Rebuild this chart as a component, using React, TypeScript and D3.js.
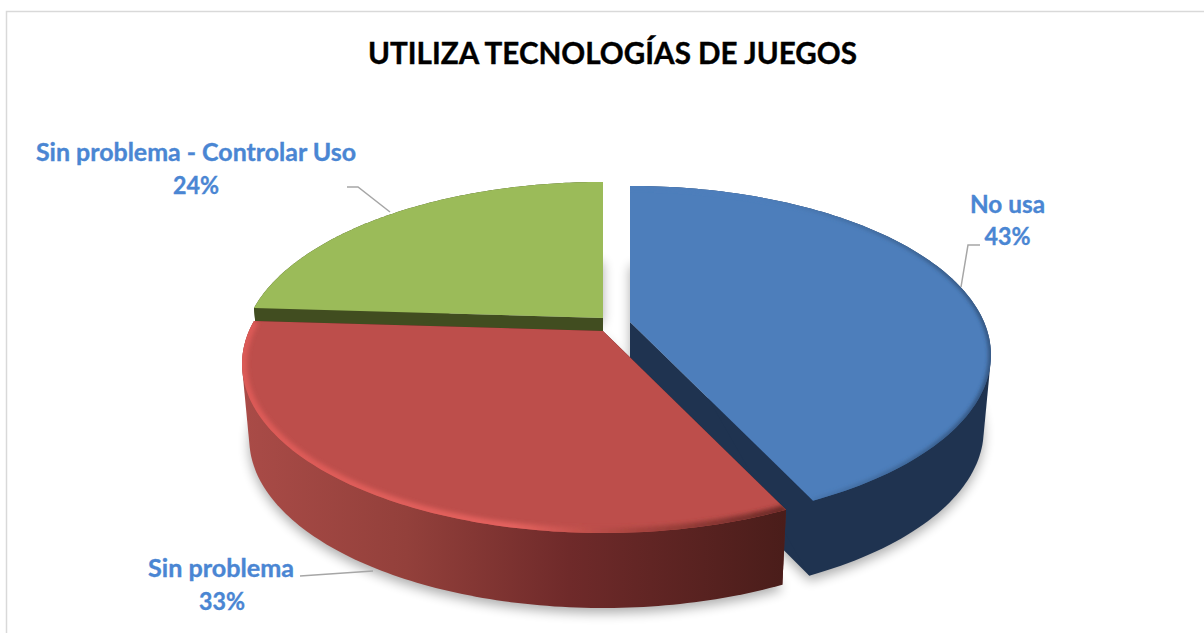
import React from "react";
import * as d3 from "d3";

const title = "UTILIZA TECNOLOGÍAS DE JUEGOS";
const categories = ["No usa", "Sin problema", "Sin problema - Controlar Uso"];
const shares = [43, 33, 24];
const topColors = ["#4d7ebb", "#bd4e4b", "#9bbb59"];
const cutColors = ["#1f3350", "#5a2220", "#414d20"];
const apexX = [630, 603, 603];
const apexY = [322, 331, 318];

const W = 1204, H = 633;
const K = 0.195, A = 162.6, R = 354, DEPTH = 75, SHRINK = 0.98;
type P = [number, number];

const proj = (i: number, a: number, r = 1): P => {
  const u = r * Math.sin(a), v = -r * Math.cos(a);
  const w = 1 - K * v;
  return [apexX[i] + (R * u) / w, apexY[i] + (A * v) / w];
};
const low = (i: number, p: P): P => [apexX[i] + SHRINK * (p[0] - apexX[i]), p[1] + DEPTH];
const line = d3.line<P>();
const arcs = d3.pie<number>().sort(null)(shares);
const arcPts = (i: number): P[] => {
  const { startAngle: s, endAngle: e } = arcs[i];
  return d3.range(0, 121).map((t) => proj(i, s + ((e - s) * t) / 120));
};

const topPath = (i: number) => line([[apexX[i], apexY[i]], ...arcPts(i)]) + "Z";
// The side wall is the convex hull of the rim and its lowered copy; the top face is painted over it.
const wallPath = (i: number) => {
  const a = arcPts(i);
  return line(d3.polygonHull([...a, ...a.map((p) => low(i, p))]) as P[]) + "Z";
};
const cutPath = (i: number, end: boolean) => {
  const a = arcPts(i);
  const o = end ? a[a.length - 1] : a[0];
  const c: P = [apexX[i], apexY[i]];
  return line([c, o, low(i, o), low(i, c)]) + "Z";
};
const hullPath = (i: number) => {
  const a = arcPts(i);
  const c: P = [apexX[i], apexY[i]];
  return line([c, ...a.map((p) => low(i, p)), low(i, c)]) + "Z";
};

const labelFill = "#4a86d3";
const leaderColor = "#a6a6a6";
const fontFamily = "Lato, 'Open Sans', sans-serif";
const labelRows = [
  { text: categories[0], x: 1007.5, y: 213, len: 75 },
  { text: `${shares[0]}%`, x: 1007.5, y: 245, len: 46 },
  { text: categories[1], x: 221, y: 577, len: 146 },
  { text: `${shares[1]}%`, x: 222, y: 610, len: 46 },
  { text: categories[2], x: 196, y: 161, len: 320 },
  { text: `${shares[2]}%`, x: 196, y: 194, len: 46 },
];
const leaders: P[][] = [
  [[980, 245], [968, 245], [961, 287]],
  [[300, 576], [373, 571]],
  [[347, 187], [358, 187], [390, 212]],
];
const rimStroke = ["url(#blueRim)", "url(#redRim)", "none"];
const rimWidth = [4, 10, 0];

export default function App() {
  const order = [2, 0, 1];
  return (
    <svg width={W} height={H} style={{ position: "absolute", left: 0, top: 0, display: "block", background: "#fff" }}>
      <defs>
        <filter id="shadow" x="-20%" y="-20%" width="140%" height="140%">
          <feGaussianBlur stdDeviation="6" />
        </filter>
        <filter id="rim" x="-5%" y="-5%" width="110%" height="110%">
          <feGaussianBlur stdDeviation="2" />
        </filter>
        <linearGradient id="redWall" gradientUnits="userSpaceOnUse" x1="245" y1="0" x2="785" y2="0">
          <stop offset="0" stopColor="#a94b47" />
          <stop offset="0.3" stopColor="#93403b" />
          <stop offset="0.6" stopColor="#6f2a2a" />
          <stop offset="1" stopColor="#4a1d1a" />
        </linearGradient>
        <linearGradient id="redRim" gradientUnits="userSpaceOnUse" x1="245" y1="0" x2="785" y2="0">
          <stop offset="0" stopColor="#dc5a57" />
          <stop offset="0.5" stopColor="#e4625e" />
          <stop offset="0.72" stopColor="#a8443f" />
          <stop offset="1" stopColor="#6a2a27" />
        </linearGradient>
        <linearGradient id="blueRim" gradientUnits="userSpaceOnUse" x1="760" y1="0" x2="985" y2="0">
          <stop offset="0" stopColor="#4d7ebb" />
          <stop offset="0.6" stopColor="#3a618f" />
          <stop offset="1" stopColor="#2a476c" />
        </linearGradient>
        {order.map((i) => (
          <clipPath id={`top${i}`} key={i}>
            <path d={topPath(i)} />
          </clipPath>
        ))}
      </defs>

      <path d={`M6.5 ${H}V11.5H${W}`} fill="none" stroke="#d9d9d9" strokeWidth={1.5} />

      <g filter="url(#shadow)" opacity={0.32} transform="translate(0,5)">
        {order.map((i) => (
          <path key={i} d={hullPath(i)} fill="#000" />
        ))}
      </g>

      {order.map((i) => (
        <g key={i}>
          <path d={cutPath(i, true)} fill={cutColors[i]} />
          <path d={cutPath(i, false)} fill={cutColors[i]} />
          <path d={wallPath(i)} fill={i === 1 ? "url(#redWall)" : cutColors[i]} />
          <path d={topPath(i)} fill={topColors[i]} />
          {rimWidth[i] > 0 && (
            <g clipPath={`url(#top${i})`}>
              <path
                d={line(arcPts(i)) as string}
                fill="none"
                stroke={rimStroke[i]}
                strokeWidth={rimWidth[i]}
                filter="url(#rim)"
              />
            </g>
          )}
        </g>
      ))}

      {leaders.map((l, i) => (
        <path key={i} d={line(l) as string} fill="none" stroke={leaderColor} strokeWidth={1.5} />
      ))}

      <text
        x={612.5}
        y={64}
        textAnchor="middle"
        fontFamily={fontFamily}
        fontWeight={700}
        fontSize={31}
        fill="#000"
        stroke="#000"
        strokeWidth={0.4}
        textLength={489}
        lengthAdjust="spacingAndGlyphs"
      >
        {title}
      </text>
      {labelRows.map((r, i) => (
        <text
          key={i}
          x={r.x}
          y={r.y}
          textAnchor="middle"
          fontFamily={fontFamily}
          fontWeight={700}
          fontSize={24}
          fill={labelFill}
          stroke={labelFill}
          strokeWidth={0.35}
          textLength={r.len}
          lengthAdjust="spacingAndGlyphs"
        >
          {r.text}
        </text>
      ))}
    </svg>
  );
}
